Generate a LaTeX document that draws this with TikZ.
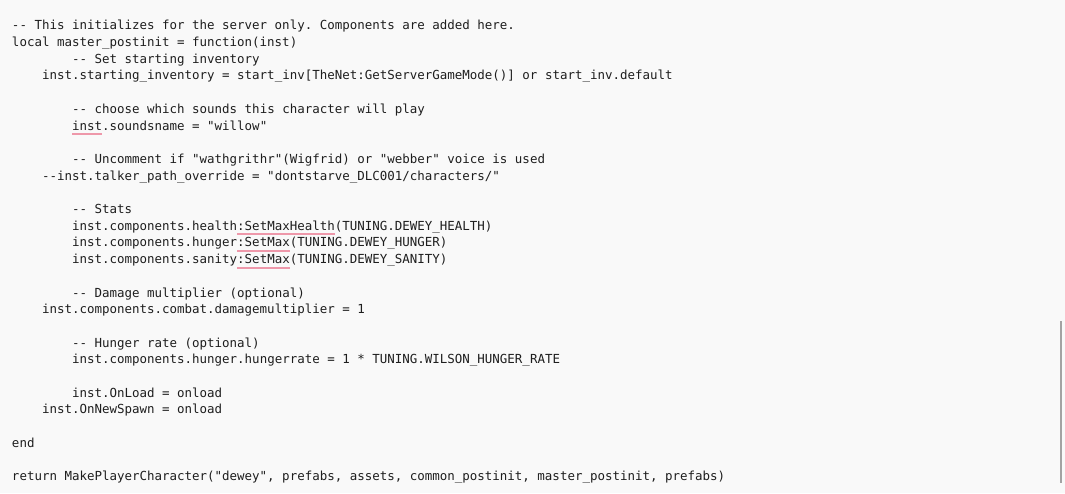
\documentclass[tikz,border=0pt]{standalone}
\usepackage{fontspec}
\newfontfamily\codefont{DejaVu Sans Mono}
\newcommand\dashdash{-\kern0pt-}
\definecolor{bgcol}{HTML}{F9F9F9}
\definecolor{txtcol}{HTML}{1E1E1E}
\definecolor{squig}{HTML}{EE98AA}
\definecolor{barcol}{HTML}{A3A3A3}
\tikzset{
  codetext/.style={anchor=base west, inner sep=0pt, outer sep=0pt, text=txtcol,
    font=\codefont\fontsize{12.47}{15}\selectfont\frenchspacing},
  spell/.style={fill=squig, draw=none},
}
\def\xo{12}
\def\cw{7.51}
\def\yo{29.8}
\def\lh{16.7}
\begin{document}
\begin{tikzpicture}[x=1pt,y=-1pt]
\useasboundingbox (0,0) rectangle (1065,493);
\fill[bgcol] (0,0) rectangle (1065,493);
% spelling underlines
\fill[spell] ({\xo+8*\cw},{\yo+6*\lh+3}) rectangle ({\xo+12*\cw},{\yo+6*\lh+5.2});
\fill[spell] ({\xo+30*\cw},{\yo+12*\lh+3}) rectangle ({\xo+43*\cw},{\yo+12*\lh+5.2});
\fill[spell] ({\xo+30*\cw},{\yo+13*\lh+3}) rectangle ({\xo+37*\cw},{\yo+13*\lh+5.2});
\fill[spell] ({\xo+30*\cw},{\yo+14*\lh+3}) rectangle ({\xo+37*\cw},{\yo+14*\lh+5.2});
% code lines
\node[codetext] (L0) at ({\xo+0*\cw},{\yo+0*\lh}) {\dashdash{} This initializes for the server only. Components are added here.};
\node[codetext] (L1) at ({\xo+0*\cw},{\yo+1*\lh}) {local master\_postinit = function(inst)};
\node[codetext] (L2) at ({\xo+8*\cw},{\yo+2*\lh}) {\dashdash{} Set starting inventory};
\node[codetext] (L3) at ({\xo+4*\cw},{\yo+3*\lh}) {inst.starting\_inventory = start\_inv[TheNet:GetServerGameMode()] or start\_inv.default};
\node[codetext] (L5) at ({\xo+8*\cw},{\yo+5*\lh}) {\dashdash{} choose which sounds this character will play};
\node[codetext] (L6) at ({\xo+8*\cw},{\yo+6*\lh}) {inst.soundsname = "willow"};
\node[codetext] (L8) at ({\xo+8*\cw},{\yo+8*\lh}) {\dashdash{} Uncomment if "wathgrithr"(Wigfrid) or "webber" voice is used};
\node[codetext] (L9) at ({\xo+4*\cw},{\yo+9*\lh}) {\dashdash inst.talker\_path\_override = "dontstarve\_DLC001/characters/"};
\node[codetext] (L11) at ({\xo+8*\cw},{\yo+11*\lh}) {\dashdash{} Stats};
\node[codetext] (L12) at ({\xo+8*\cw},{\yo+12*\lh}) {inst.components.health:SetMaxHealth(TUNING.DEWEY\_HEALTH)};
\node[codetext] (L13) at ({\xo+8*\cw},{\yo+13*\lh}) {inst.components.hunger:SetMax(TUNING.DEWEY\_HUNGER)};
\node[codetext] (L14) at ({\xo+8*\cw},{\yo+14*\lh}) {inst.components.sanity:SetMax(TUNING.DEWEY\_SANITY)};
\node[codetext] (L16) at ({\xo+8*\cw},{\yo+16*\lh}) {\dashdash{} Damage multiplier (optional)};
\node[codetext] (L17) at ({\xo+4*\cw},{\yo+17*\lh}) {inst.components.combat.damagemultiplier = 1};
\node[codetext] (L19) at ({\xo+8*\cw},{\yo+19*\lh}) {\dashdash{} Hunger rate (optional)};
\node[codetext] (L20) at ({\xo+8*\cw},{\yo+20*\lh}) {inst.components.hunger.hungerrate = 1 * TUNING.WILSON\_HUNGER\_RATE};
\node[codetext] (L22) at ({\xo+8*\cw},{\yo+22*\lh}) {inst.OnLoad = onload};
\node[codetext] (L23) at ({\xo+4*\cw},{\yo+23*\lh}) {inst.OnNewSpawn = onload};
\node[codetext] (L25) at ({\xo+0*\cw},{\yo+25*\lh}) {end};
\node[codetext] (L27) at ({\xo+0*\cw},{\yo+27*\lh}) {return MakePlayerCharacter("dewey", prefabs, assets, common\_postinit, master\_postinit, prefabs)};
% scrollbar
\fill[barcol] (1060,321) rectangle (1062,483);
\end{tikzpicture}
\end{document}
